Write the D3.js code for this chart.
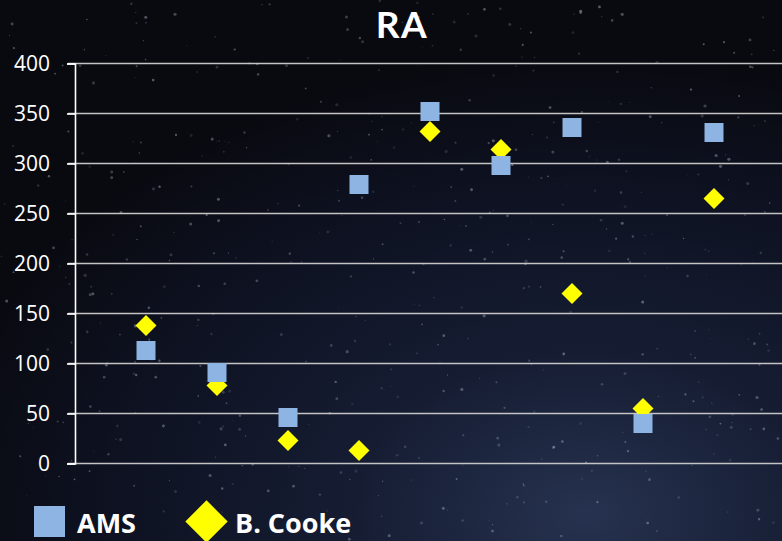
<!DOCTYPE html>
<html>
<head>
<meta charset="utf-8">
<script src="https://cdn.jsdelivr.net/npm/d3@7"></script>
<style>
  html, body { margin: 0; padding: 0; background: #0b0d16; }
  svg { display: block; }
</style>
</head>
<body>
<script>
// Series and axis data
const xPositions = [1, 2, 3, 4, 5, 6, 7, 8, 9];
const amsValues = [113, 91, 46, 279, 352, 298, 336, 40, 331];
const cookeValues = [138, 78, 23, 13, 332, 314, 170, 55, 265];
const yTicks = [0, 50, 100, 150, 200, 250, 300, 350, 400];
const seriesNames = ["AMS", "B. Cooke"];

const W = 782, H = 541;
const FONT = "'Open Sans', Lato, sans-serif";
const svg = d3.select("body").append("svg").attr("width", W).attr("height", H);

// Night-sky backdrop
const defs = svg.append("defs");
const bg = defs.append("radialGradient").attr("id", "sky")
  .attr("cx", "75%").attr("cy", "95%").attr("r", "85%");
bg.append("stop").attr("offset", "0%").attr("stop-color", "#26324f");
bg.append("stop").attr("offset", "35%").attr("stop-color", "#161d33");
bg.append("stop").attr("offset", "70%").attr("stop-color", "#0e1222");
bg.append("stop").attr("offset", "100%").attr("stop-color", "#090a10");
svg.append("rect").attr("width", W).attr("height", H).attr("fill", "url(#sky)");

// faint stars from a fixed seed
let seed = 12345;
function rnd() { seed = (seed * 1103515245 + 12345) % 2147483648; return seed / 2147483648; }
const stars = svg.append("g");
for (let i = 0; i < 520; i++) {
  const sx = rnd() * W, sy = rnd() * H, sr = 0.5 + rnd() * 1.1, so = 0.1 + rnd() * 0.3;
  stars.append("circle").attr("cx", sx).attr("cy", sy).attr("r", sr)
    .attr("fill", "#c8d2ea").attr("opacity", so);
}

// Scales
const x = d3.scaleLinear().domain([0, 10]).range([75, 785]);
const y = d3.scaleLinear().domain([0, 400]).range([463.5, 63.5]);

// Gridlines
svg.append("g").selectAll("line").data(yTicks).join("line")
  .attr("x1", 68).attr("x2", W)
  .attr("y1", d => y(d)).attr("y2", d => y(d))
  .attr("stroke", "#c4c4c4").attr("stroke-width", 1.6);

// Y axis
const yAxis = d3.axisLeft(y).tickValues(yTicks).tickSize(8).tickPadding(17);
const ga = svg.append("g").attr("transform", "translate(75,0)").call(yAxis);
ga.attr("font-size", null).attr("font-family", null);
ga.select(".domain").attr("stroke", "#ffffff").attr("stroke-width", 1.6);
ga.selectAll(".tick line").attr("stroke", "#ffffff").attr("stroke-width", 1.6);
ga.selectAll(".tick text").attr("fill", "#ffffff")
  .attr("font-family", FONT).attr("font-size", 21);

// Title
svg.append("text").attr("x", 402).attr("y", 38).attr("text-anchor", "middle")
  .attr("fill", "#ffffff").attr("font-family", "Lato, 'Open Sans', sans-serif")
  .attr("font-weight", "bold").attr("font-size", 37).attr("letter-spacing", 1.5).text("RA");

// B. Cooke diamonds
const diamond = d3.symbol().type(d3.symbolSquare).size(220);
svg.append("g").selectAll("path").data(cookeValues).join("path")
  .attr("d", diamond)
  .attr("transform", (d, i) => `translate(${x(xPositions[i])},${y(d)}) rotate(45)`)
  .attr("fill", "#ffff00");

// AMS squares
const sq = 19;
svg.append("g").selectAll("rect").data(amsValues).join("rect")
  .attr("x", (d, i) => x(xPositions[i]) - sq / 2)
  .attr("y", d => y(d) - sq / 2)
  .attr("width", sq).attr("height", sq)
  .attr("fill", "#8eb4e3");

// Legend
const lg = svg.append("g");
lg.append("rect").attr("x", 34).attr("y", 506).attr("width", 31).attr("height", 31).attr("fill", "#8eb4e3");
lg.append("text").attr("x", 77).attr("y", 533).attr("fill", "#ffffff")
  .attr("font-family", FONT).attr("font-weight", "bold").attr("font-size", 27).text(seriesNames[0]);
lg.append("path").attr("d", d3.symbol().type(d3.symbolSquare).size(900))
  .attr("transform", "translate(206.5,521.5) rotate(45)").attr("fill", "#ffff00");
lg.append("text").attr("x", 235).attr("y", 533).attr("fill", "#ffffff")
  .attr("font-family", FONT).attr("font-weight", "bold").attr("font-size", 27).text(seriesNames[1]);
</script>
</body>
</html>
